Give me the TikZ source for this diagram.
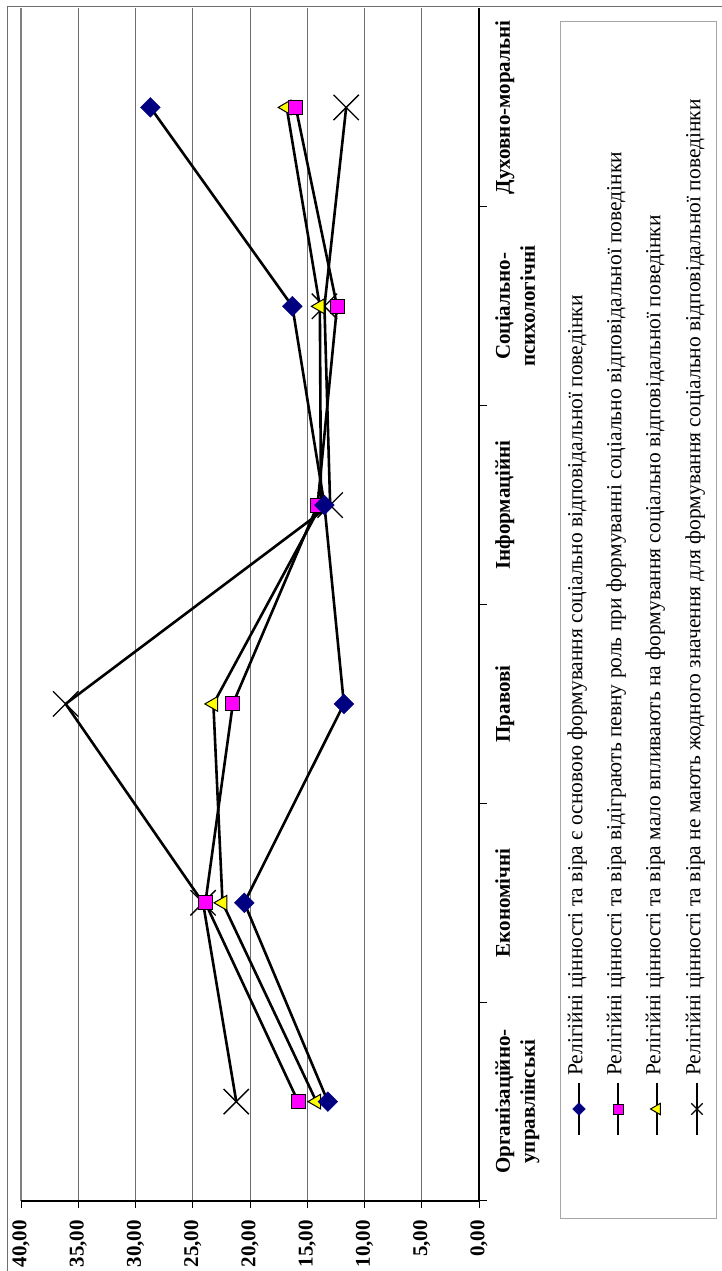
\documentclass[tikz,border=0pt]{standalone}
\usepackage{fontspec}
\setmainfont{Liberation Serif}
\usetikzlibrary{shapes.geometric,shapes.misc}
\definecolor{navy}{RGB}{0,0,128}
\definecolor{gridc}{RGB}{110,110,110}
\definecolor{mkmag}{RGB}{255,0,255}
\definecolor{mkyel}{RGB}{255,255,0}
\begin{document}
\begin{tikzpicture}[x=1pt,y=-1pt,
  gridl/.style={draw=gridc, line width=1pt},
  serline/.style={line width=2.6pt, black, line join=round},
  mdia/.style={diamond, fill=navy, draw=navy, inner sep=0pt, minimum width=20pt, minimum height=20pt},
  msq/.style={rectangle, fill=mkmag, draw=black, line width=1pt, minimum size=14pt, inner sep=0pt},
  mtri/.style={regular polygon, regular polygon sides=3, shape border rotate=90, fill=mkyel, draw=black, line width=1pt, minimum size=17pt, inner sep=0pt},
  mx/.style={cross out, draw=black, line width=1.3pt, minimum size=24pt, inner sep=0pt},
  ldia/.style={mdia, minimum width=13pt, minimum height=13pt},
  lsq/.style={msq, minimum size=10pt},
  ltri/.style={mtri, minimum size=13pt},
  lx/.style={mx, minimum size=10pt},
  catlab/.style={font=\bfseries\fontsize{21}{25}\selectfont, rotate=90, anchor=north, align=center, inner sep=0pt},
  ticklab/.style={font=\bfseries\fontsize{21}{25}\selectfont, rotate=90, anchor=east, inner sep=0pt},
  legtext/.style={font=\fontsize{21.5}{24}\selectfont, rotate=90, anchor=mid west, inner sep=0pt},
  legline/.style={line width=2.4pt, black}
]
\useasboundingbox (0,0) rectangle (722,1271);
% outer chart frame (left and top edges visible)
\draw[gridc, line width=1pt] (7,1271) -- (7,7) -- (722,7);
% gridlines
\foreach \v in {5,10,...,35} {
  \draw[gridl] ({479-11.45*\v},8) -- ({479-11.45*\v},1201);
}
% plot area left border (40,00)
\draw[gray, line width=2pt] (21,8) -- (21,1201);
% axes
\draw[black, line width=1.5pt] (479,8) -- (479,1201) -- (21,1201);
\foreach \v in {0,5,...,40} {
  \draw[black, line width=1pt] ({479-11.45*\v},1201) -- ({479-11.45*\v},1208);
}
\foreach \c in {1,...,6} {
  \draw[black, line width=1pt] (479,{8+198.83*\c}) -- (487,{8+198.83*\c});
}
% tick labels
\foreach \v/\t in {0/{0,00},5/{5,00},10/{10,00},15/{15,00},20/{20,00},25/{25,00},30/{30,00},35/{35,00},40/{40,00}} {
  \node[ticklab] (t\v) at ({479-11.45*\v},1220) {\t};
}
% category labels
\node[catlab] (c1) at (495,1101.6) {Організаційно-\\управлінські};
\node[catlab] (c2) at (495,902.8) {Економічні};
\node[catlab] (c3) at (495,703.9) {Правові};
\node[catlab] (c4) at (495,505.1) {Інформаційні};
\node[catlab] (c5) at (495,306.3) {Соціально-\\психологічні};
\node[catlab] (c6) at (495,107.4) {Духовно-моральні};
% data coordinates
\def\cy{{1101.6,902.8,703.9,505.1,306.3,107.4}}
\foreach \s/\vals in {1/{13.2,20.5,11.8,13.5,16.3,28.7},
                      2/{15.8,23.9,21.5,14.1,12.4,16.0},
                      3/{14.2,22.4,23.2,13.8,13.9,16.8},
                      4/{21.2,24.1,36.1,13.0,13.5,11.6}} {
  \foreach \v [count=\i] in \vals {
    \pgfmathsetmacro{\yy}{\cy[\i-1]}
    \coordinate (p\s-\i) at ({479-11.45*\v},\yy);
  }
}
% series lines
\foreach \s in {1,2,3,4} {
  \draw[serline] (p\s-1) -- (p\s-2) -- (p\s-3) -- (p\s-4) -- (p\s-5) -- (p\s-6);
}
% markers
\foreach \i in {1,...,6} {
  \node[mx] (m4-\i) at (p4-\i) {};
  \node[mtri] (m3-\i) at (p3-\i) {};
  \node[msq] (m2-\i) at (p2-\i) {};
  \node[mdia] (m1-\i) at (p1-\i) {};
}
% legend
\node[draw=gray!70, line width=1pt, minimum width=156pt, minimum height=1197pt, anchor=north west, inner sep=0pt] (leg) at (560,21) {};
\foreach \k/\xx/\mk/\txt in {
  1/579/ldia/{Релігійні цінності та віра є основою формування соціально відповідальної поведінки},
  2/618/lsq/{Релігійні цінності та віра відіграють певну роль при формуванні соціально відповідальної поведінки},
  3/657/ltri/{Релігійні цінності та віра мало впливають на формування соціально відповідальної поведінки},
  4/697/lx/{Релігійні цінності та віра не мають жодного значення для формування соціально відповідальної поведінки}} {
  \coordinate (la\k) at (\xx,1135);
  \coordinate (lb\k) at (\xx,1083);
  \draw[legline] (la\k) -- (lb\k);
  \node[\mk] (lm\k) at (\xx,1109) {};
  \node[legtext] (lt\k) at (\xx+1,1076) {\txt};
}
\end{tikzpicture}
\end{document}
